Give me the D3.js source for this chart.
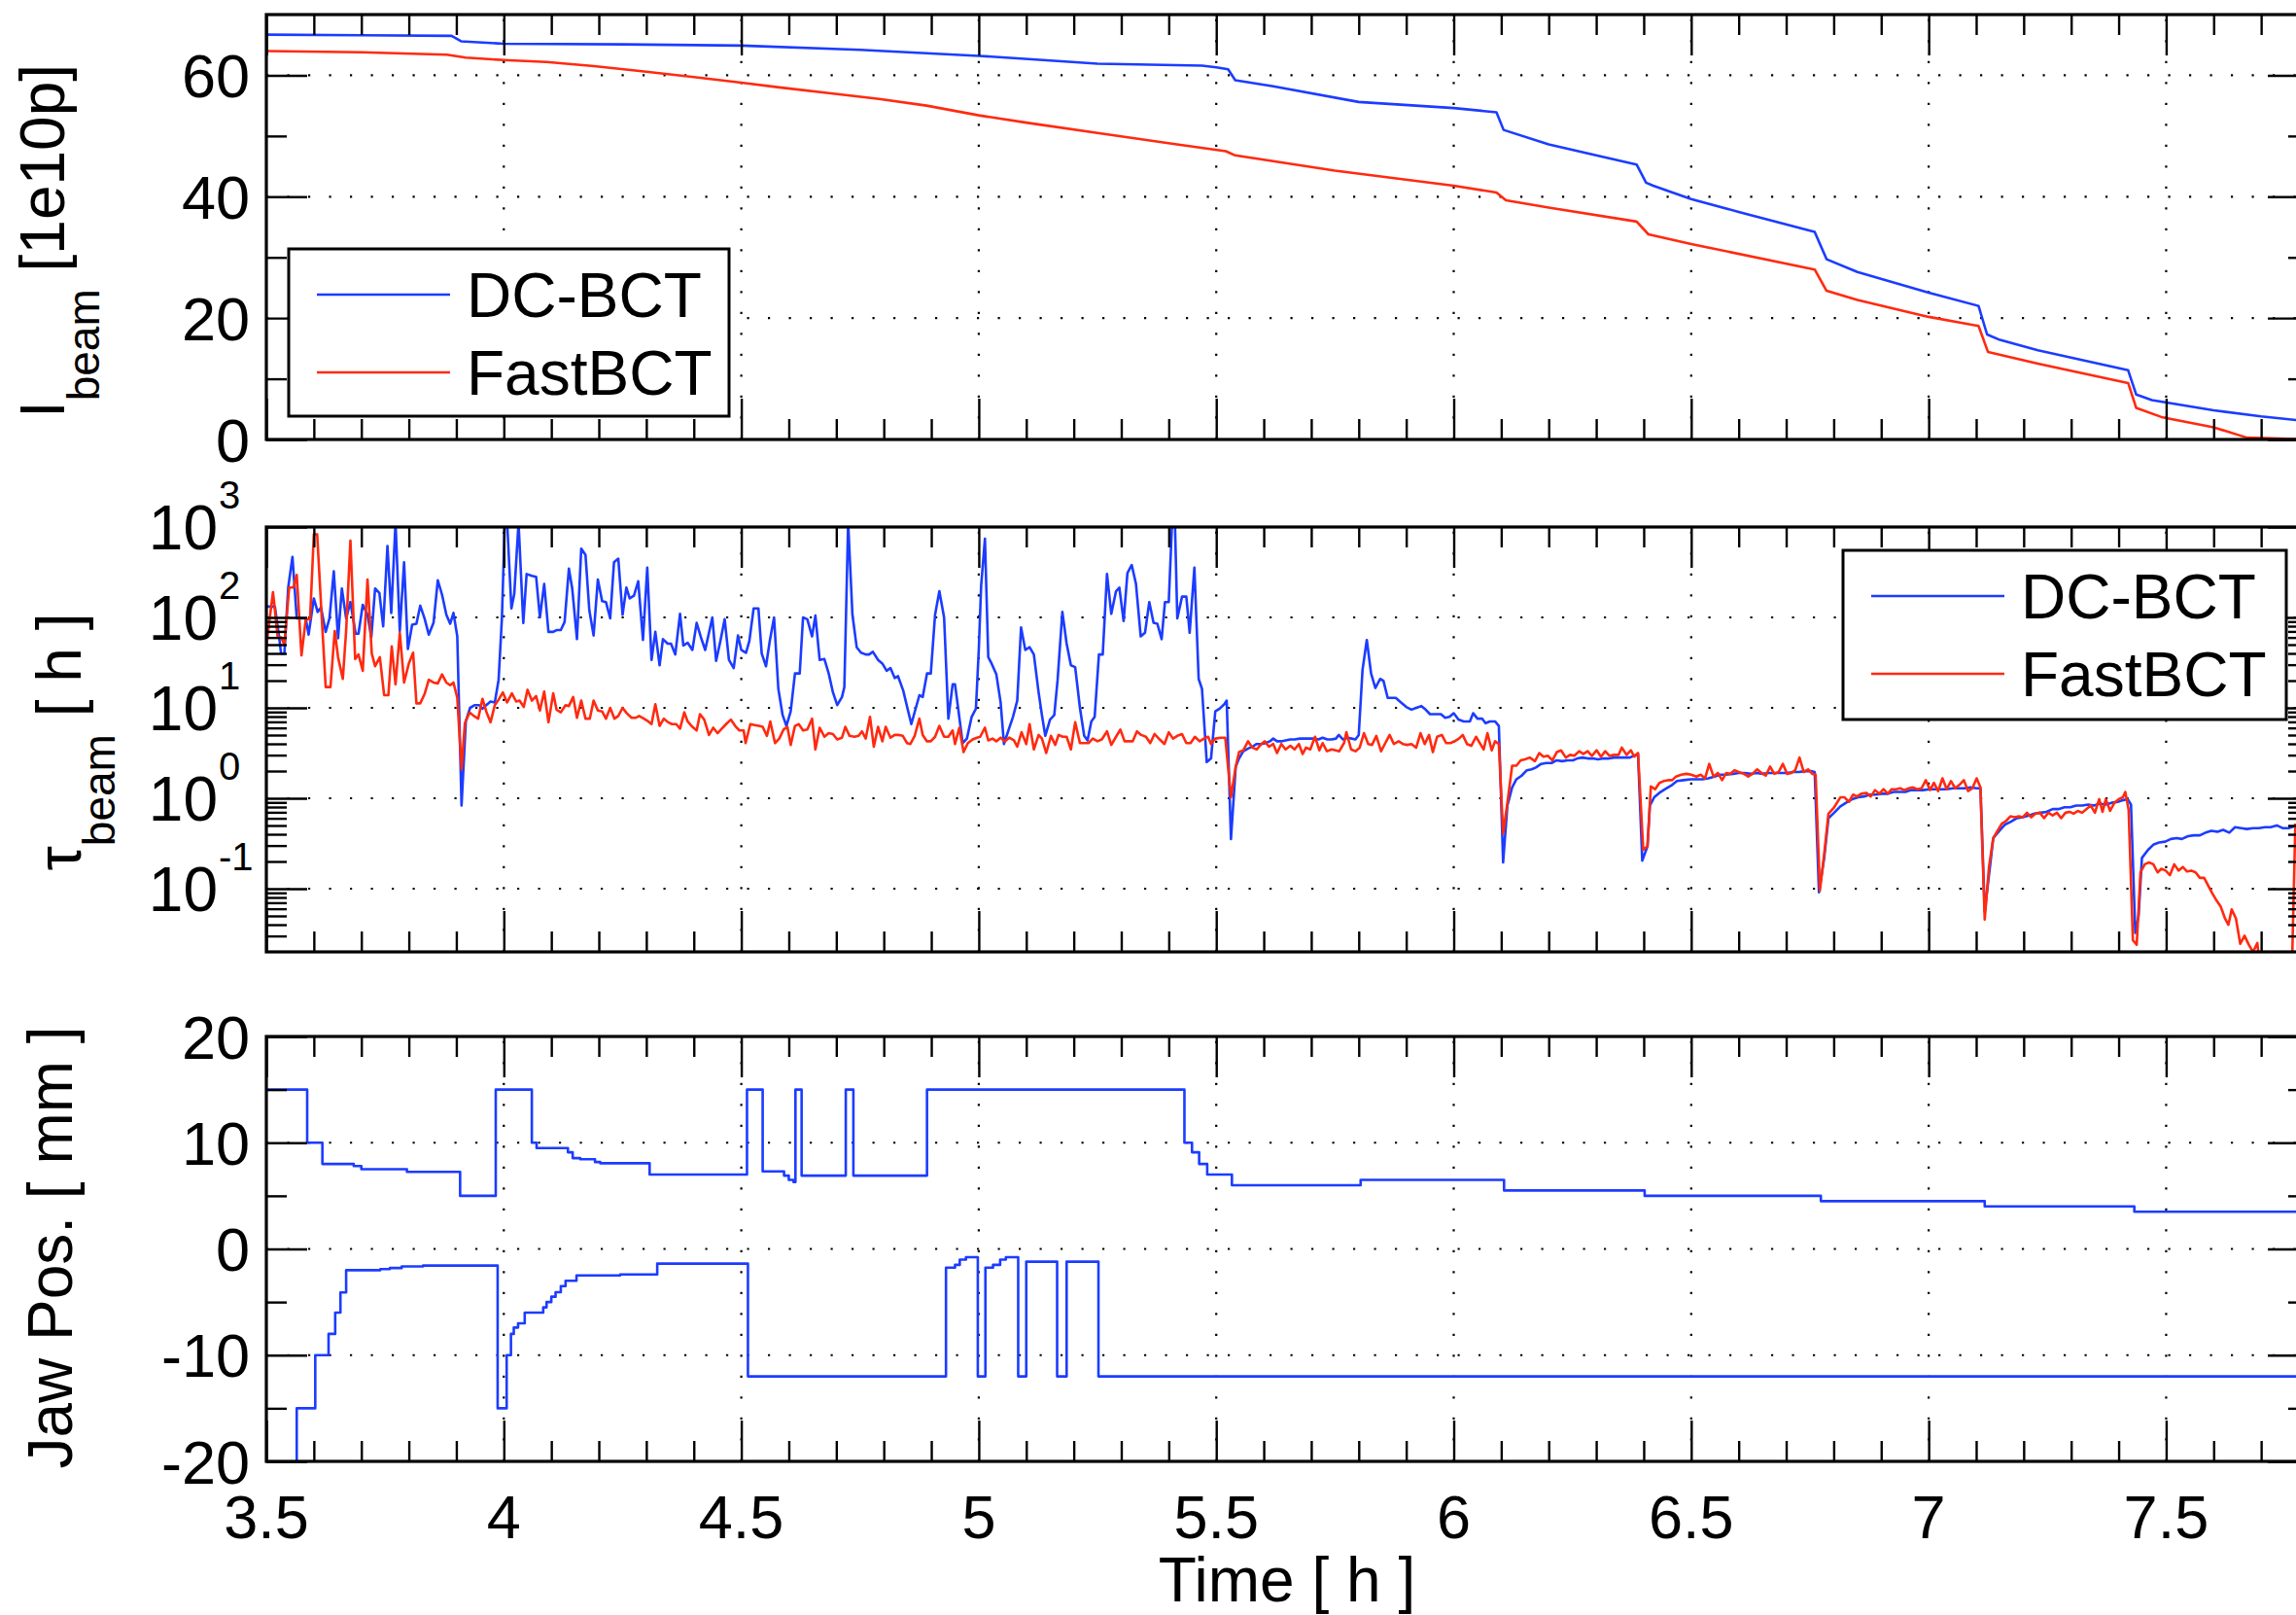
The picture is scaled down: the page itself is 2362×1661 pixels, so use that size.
<!DOCTYPE html>
<html><head><meta charset="utf-8">
<script src="https://cdn.jsdelivr.net/npm/d3@7"></script>
<style>
html,body{margin:0;padding:0;background:#fff;overflow:hidden}
svg{display:block}
text{font-family:"Liberation Sans",Arial,Helvetica,sans-serif;fill:#000}
</style></head><body>
<svg id="chart" width="2362" height="1661"></svg>
<script>
// ---------------- DATA ----------------
const seriesNames = ["DC-BCT", "FastBCT"];
const xTickValues = [3.5, 4, 4.5, 5, 5.5, 6, 6.5, 7, 7.5];
const xTickLabels = ["3.5", "4", "4.5", "5", "5.5", "6", "6.5", "7", "7.5"];
const iTickValues = [0, 20, 40, 60];
const iTickLabels = ["0", "20", "40", "60"];
const tauDecades = [-1, 0, 1, 2, 3];
const jawTickValues = [-20, -10, 0, 10, 20];
const jawTickLabels = ["-20", "-10", "0", "10", "20"];

// beam intensity [1e10 p] vs time [h]
const ibeamDC = [[3.5,66.7],[3.7,66.6],[3.89,66.5],[3.91,65.6],[4.0,65.2],[4.25,65.1],[4.5,64.9],[4.75,64.2],[5.0,63.2],[5.12,62.6],[5.25,61.9],[5.47,61.6],[5.5,61.3],[5.525,61.0],[5.54,59.2],[5.62,58.2],[5.8,55.6],[6.0,54.6],[6.09,53.9],[6.105,51.0],[6.2,48.6],[6.3,46.8],[6.385,45.3],[6.405,42.3],[6.42,41.8],[6.5,39.6],[6.6,37.5],[6.76,34.2],[6.785,29.7],[6.85,27.6],[7.0,24.2],[7.105,22.0],[7.123,17.3],[7.15,16.4],[7.23,14.7],[7.42,11.4],[7.437,7.4],[7.47,6.5],[7.6,4.8],[7.7,3.8],[7.8,3.0]];
const ibeamFast = [[3.5,64.0],[3.7,63.8],[3.88,63.4],[3.92,62.9],[4.0,62.5],[4.09,62.2],[4.19,61.5],[4.3,60.6],[4.4,59.7],[4.5,58.8],[4.58,58.0],[4.68,57.1],[4.79,56.1],[4.89,55.0],[5.0,53.4],[5.1,52.2],[5.25,50.5],[5.41,48.7],[5.52,47.5],[5.54,46.8],[5.75,44.3],[6.0,41.8],[6.09,40.7],[6.11,39.4],[6.2,38.2],[6.385,35.9],[6.41,33.8],[6.5,32.2],[6.76,28.0],[6.785,24.5],[6.85,23.0],[7.0,20.2],[7.105,18.7],[7.125,14.4],[7.23,12.5],[7.42,9.3],[7.437,5.2],[7.49,3.7],[7.6,2.0],[7.67,0.3],[7.8,0.0]];

// beam lifetime, stored as log10(tau / h) vs time [h]
const tauDcLog10 = [[3.499,2.12],[3.518,2.12],[3.527,1.78],[3.531,1.60],[3.538,1.60],[3.546,2.33],[3.555,2.67],[3.564,1.99],[3.583,1.99],[3.589,1.81],[3.600,2.21],[3.608,2.06],[3.615,2.11],[3.625,1.84],[3.633,1.99],[3.642,2.51],[3.651,1.77],[3.659,2.32],[3.668,1.99],[3.677,2.17],[3.688,1.82],[3.694,1.82],[3.703,2.14],[3.713,2.03],[3.721,1.78],[3.729,2.32],[3.738,2.27],[3.746,1.90],[3.755,2.79],[3.763,2.05],[3.772,3.05],[3.781,1.85],[3.790,2.61],[3.798,1.65],[3.807,1.92],[3.816,1.93],[3.824,2.13],[3.833,1.99],[3.842,1.81],[3.852,1.94],[3.861,2.41],[3.870,2.25],[3.879,2.03],[3.887,1.93],[3.894,2.05],[3.902,1.79],[3.911,-0.08],[3.920,0.85],[3.929,1.00],[3.939,1.03],[3.948,1.03],[3.955,0.99],[3.963,1.03],[3.972,1.07],[3.981,1.06],[3.989,1.31],[3.996,1.99],[4.002,3.05],[4.007,3.05],[4.016,2.10],[4.022,2.26],[4.031,3.05],[4.041,1.94],[4.048,2.48],[4.059,2.46],[4.068,2.45],[4.076,2.00],[4.085,2.37],[4.094,1.84],[4.104,1.84],[4.111,1.86],[4.120,1.86],[4.128,1.95],[4.137,2.54],[4.144,2.32],[4.154,1.76],[4.163,2.76],[4.172,2.69],[4.180,2.08],[4.189,1.80],[4.198,2.42],[4.207,2.18],[4.215,2.17],[4.224,1.99],[4.232,2.61],[4.241,2.65],[4.250,2.03],[4.258,2.33],[4.265,2.21],[4.274,2.24],[4.283,2.40],[4.293,1.75],[4.302,2.55],[4.311,1.53],[4.319,1.84],[4.328,1.47],[4.335,1.76],[4.345,1.71],[4.352,1.71],[4.361,1.59],[4.371,2.04],[4.378,1.69],[4.387,1.72],[4.397,1.64],[4.406,1.94],[4.415,1.78],[4.424,1.64],[4.439,2.00],[4.447,1.52],[4.456,1.74],[4.465,1.98],[4.474,1.53],[4.484,1.44],[4.493,1.80],[4.500,1.64],[4.510,1.61],[4.517,1.74],[4.526,2.10],[4.536,2.10],[4.543,1.60],[4.552,1.46],[4.560,1.74],[4.569,2.00],[4.578,1.21],[4.587,0.92],[4.595,0.80],[4.604,0.96],[4.613,1.38],[4.623,1.38],[4.630,2.00],[4.639,1.98],[4.649,1.79],[4.656,2.02],[4.665,1.53],[4.675,1.54],[4.684,1.38],[4.693,1.17],[4.702,1.03],[4.712,1.12],[4.717,1.23],[4.725,3.05],[4.734,2.03],[4.743,1.67],[4.752,1.61],[4.762,1.59],[4.769,1.59],[4.777,1.62],[4.788,1.53],[4.797,1.49],[4.806,1.41],[4.814,1.44],[4.823,1.33],[4.830,1.35],[4.841,1.19],[4.851,0.97],[4.858,0.82],[4.875,1.14],[4.882,1.12],[4.891,1.38],[4.899,1.38],[4.908,2.03],[4.917,2.29],[4.927,2.00],[4.936,0.88],[4.945,1.26],[4.950,1.26],[4.957,0.98],[4.966,0.61],[4.975,0.66],[4.985,0.90],[4.994,0.99],[5.000,1.64],[5.005,2.35],[5.013,2.87],[5.020,1.56],[5.027,1.49],[5.037,1.37],[5.046,1.06],[5.053,0.60],[5.063,0.76],[5.072,0.90],[5.081,1.08],[5.089,1.89],[5.098,1.64],[5.107,1.67],[5.116,1.59],[5.126,1.17],[5.133,0.92],[5.140,0.69],[5.150,0.87],[5.159,0.92],[5.166,1.31],[5.176,2.06],[5.185,1.71],[5.194,1.47],[5.203,1.45],[5.213,1.00],[5.222,0.69],[5.229,0.64],[5.237,0.85],[5.244,0.90],[5.253,1.59],[5.261,1.59],[5.270,2.48],[5.279,2.04],[5.289,2.29],[5.296,2.33],[5.305,1.96],[5.313,2.49],[5.322,2.58],[5.331,2.37],[5.341,1.79],[5.350,1.83],[5.359,2.17],[5.368,1.94],[5.376,1.93],[5.385,1.76],[5.392,2.17],[5.400,2.17],[5.407,3.05],[5.413,3.05],[5.418,1.99],[5.428,2.23],[5.437,2.23],[5.444,1.83],[5.454,2.55],[5.463,1.32],[5.470,1.21],[5.480,0.40],[5.489,0.44],[5.498,0.96],[5.507,0.99],[5.517,1.04],[5.522,1.08],[5.531,-0.45],[5.541,0.35],[5.548,0.44],[5.557,0.52],[5.567,0.55],[5.576,0.57],[5.585,0.60],[5.595,0.60],[5.604,0.61],[5.613,0.63],[5.620,0.66],[5.628,0.63],[5.637,0.63],[5.646,0.64],[5.656,0.65],[5.665,0.65],[5.676,0.66],[5.687,0.66],[5.696,0.66],[5.706,0.66],[5.715,0.65],[5.724,0.67],[5.734,0.65],[5.743,0.65],[5.752,0.66],[5.758,0.70],[5.767,0.65],[5.776,0.67],[5.785,0.66],[5.793,0.65],[5.800,0.70],[5.808,1.42],[5.817,1.75],[5.826,1.38],[5.835,1.22],[5.845,1.32],[5.852,1.30],[5.861,1.11],[5.878,1.11],[5.889,1.06],[5.900,1.01],[5.911,0.98],[5.921,1.00],[5.932,1.02],[5.939,0.99],[5.950,0.93],[5.961,0.93],[5.973,0.93],[5.982,0.89],[5.991,0.90],[6.000,0.94],[6.010,0.87],[6.021,0.85],[6.034,0.85],[6.041,0.94],[6.050,0.88],[6.060,0.88],[6.067,0.83],[6.076,0.85],[6.087,0.85],[6.095,0.80],[6.104,-0.71],[6.113,-0.08],[6.123,0.12],[6.132,0.21],[6.143,0.25],[6.154,0.31],[6.164,0.32],[6.173,0.34],[6.184,0.38],[6.195,0.39],[6.206,0.39],[6.217,0.42],[6.228,0.41],[6.240,0.42],[6.251,0.42],[6.260,0.44],[6.271,0.45],[6.282,0.44],[6.293,0.44],[6.304,0.43],[6.315,0.44],[6.327,0.44],[6.338,0.45],[6.349,0.45],[6.360,0.45],[6.371,0.45],[6.388,0.49],[6.397,-0.69],[6.408,-0.53],[6.413,-0.08],[6.422,0.01],[6.433,0.06],[6.445,0.10],[6.458,0.14],[6.470,0.19],[6.484,0.20],[6.499,0.21],[6.511,0.21],[6.524,0.21],[6.536,0.22],[6.549,0.24],[6.561,0.26],[6.573,0.26],[6.588,0.27],[6.600,0.28],[6.613,0.28],[6.625,0.27],[6.638,0.28],[6.650,0.27],[6.663,0.28],[6.677,0.28],[6.689,0.28],[6.702,0.28],[6.714,0.29],[6.727,0.29],[6.739,0.30],[6.752,0.30],[6.760,0.29],[6.769,-1.04],[6.780,-0.66],[6.789,-0.22],[6.801,-0.16],[6.814,-0.09],[6.826,-0.05],[6.839,-0.01],[6.851,0.01],[6.864,0.02],[6.876,0.04],[6.889,0.04],[6.901,0.05],[6.914,0.05],[6.926,0.07],[6.938,0.07],[6.951,0.07],[6.963,0.09],[6.976,0.09],[6.988,0.09],[7.001,0.10],[7.013,0.10],[7.026,0.10],[7.038,0.10],[7.051,0.11],[7.063,0.11],[7.076,0.11],[7.088,0.12],[7.101,0.11],[7.109,0.11],[7.118,-1.25],[7.129,-0.76],[7.136,-0.44],[7.149,-0.36],[7.161,-0.29],[7.173,-0.26],[7.186,-0.22],[7.198,-0.21],[7.211,-0.19],[7.223,-0.17],[7.236,-0.16],[7.248,-0.15],[7.261,-0.12],[7.273,-0.12],[7.286,-0.10],[7.298,-0.10],[7.311,-0.08],[7.323,-0.08],[7.336,-0.07],[7.348,-0.08],[7.360,-0.06],[7.373,-0.07],[7.385,-0.05],[7.398,-0.04],[7.410,-0.02],[7.419,-0.01],[7.426,-0.07],[7.435,-1.49],[7.442,-1.30],[7.449,-0.66],[7.462,-0.57],[7.474,-0.51],[7.485,-0.49],[7.498,-0.48],[7.510,-0.45],[7.522,-0.44],[7.533,-0.45],[7.546,-0.42],[7.558,-0.41],[7.571,-0.41],[7.583,-0.38],[7.595,-0.36],[7.608,-0.37],[7.620,-0.35],[7.633,-0.38],[7.645,-0.32],[7.658,-0.33],[7.670,-0.34],[7.683,-0.33],[7.695,-0.33],[7.708,-0.32],[7.720,-0.32],[7.733,-0.30],[7.745,-0.33],[7.758,-0.33],[7.774,-0.30],[7.800,-0.30]];
const tauFastLog10 = [[3.499,1.64],[3.505,1.90],[3.514,2.28],[3.524,1.78],[3.531,1.78],[3.538,1.70],[3.548,2.33],[3.557,2.33],[3.564,2.47],[3.574,1.58],[3.583,1.98],[3.592,1.98],[3.600,2.92],[3.607,2.92],[3.616,2.06],[3.625,1.23],[3.635,1.23],[3.644,1.85],[3.651,1.56],[3.661,1.32],[3.668,1.85],[3.677,2.85],[3.687,1.54],[3.694,1.59],[3.703,1.41],[3.713,2.42],[3.722,1.60],[3.729,1.46],[3.739,1.56],[3.748,1.14],[3.757,1.14],[3.764,1.68],[3.772,1.26],[3.781,1.83],[3.790,1.28],[3.800,1.49],[3.809,1.61],[3.816,1.05],[3.824,1.05],[3.833,1.15],[3.842,1.31],[3.852,1.28],[3.861,1.27],[3.870,1.37],[3.879,1.28],[3.887,1.25],[3.894,1.28],[3.902,1.11],[3.911,0.32],[3.918,0.83],[3.928,0.95],[3.937,0.91],[3.946,0.88],[3.955,1.10],[3.963,0.96],[3.972,0.84],[3.981,1.03],[3.989,1.09],[3.998,1.17],[4.007,1.06],[4.017,1.16],[4.026,1.07],[4.033,1.08],[4.042,1.01],[4.050,1.20],[4.059,1.08],[4.068,1.13],[4.076,0.97],[4.085,1.18],[4.094,0.84],[4.104,1.16],[4.111,0.98],[4.120,0.95],[4.130,1.03],[4.137,1.02],[4.146,1.12],[4.154,0.89],[4.163,1.08],[4.172,0.88],[4.181,0.88],[4.189,1.08],[4.198,0.97],[4.207,0.96],[4.215,0.88],[4.224,1.00],[4.233,0.88],[4.241,0.91],[4.250,1.00],[4.259,0.94],[4.269,0.89],[4.278,0.89],[4.285,0.91],[4.295,0.88],[4.304,0.85],[4.311,0.82],[4.319,1.04],[4.328,0.80],[4.337,0.88],[4.346,0.84],[4.354,0.82],[4.363,0.82],[4.371,0.77],[4.380,0.95],[4.387,0.85],[4.397,0.79],[4.406,0.75],[4.413,0.93],[4.422,0.87],[4.432,0.70],[4.441,0.78],[4.450,0.72],[4.459,0.77],[4.468,0.82],[4.478,0.87],[4.487,0.80],[4.496,0.75],[4.505,0.75],[4.509,0.61],[4.519,0.82],[4.528,0.81],[4.537,0.80],[4.545,0.79],[4.554,0.69],[4.561,0.85],[4.571,0.61],[4.580,0.66],[4.589,0.76],[4.597,0.79],[4.604,0.59],[4.613,0.80],[4.621,0.82],[4.630,0.75],[4.639,0.76],[4.649,0.88],[4.656,0.54],[4.665,0.78],[4.675,0.68],[4.684,0.72],[4.693,0.71],[4.702,0.65],[4.712,0.67],[4.719,0.79],[4.728,0.69],[4.738,0.68],[4.747,0.69],[4.754,0.74],[4.762,0.66],[4.771,0.90],[4.779,0.57],[4.788,0.79],[4.797,0.63],[4.804,0.79],[4.814,0.67],[4.823,0.70],[4.832,0.70],[4.840,0.69],[4.849,0.61],[4.856,0.60],[4.865,0.69],[4.875,0.88],[4.882,0.70],[4.891,0.63],[4.899,0.63],[4.908,0.68],[4.917,0.80],[4.927,0.68],[4.936,0.68],[4.945,0.75],[4.950,0.60],[4.959,0.78],[4.968,0.51],[4.977,0.61],[4.987,0.65],[4.996,0.67],[5.003,0.68],[5.013,0.78],[5.020,0.64],[5.029,0.66],[5.037,0.63],[5.046,0.67],[5.055,0.63],[5.064,0.67],[5.074,0.64],[5.081,0.57],[5.090,0.73],[5.100,0.60],[5.107,0.82],[5.116,0.54],[5.126,0.70],[5.133,0.66],[5.142,0.50],[5.152,0.69],[5.161,0.59],[5.168,0.70],[5.177,0.68],[5.185,0.68],[5.194,0.54],[5.203,0.84],[5.213,0.61],[5.222,0.61],[5.231,0.61],[5.240,0.66],[5.250,0.63],[5.259,0.65],[5.270,0.74],[5.279,0.59],[5.289,0.68],[5.298,0.76],[5.307,0.63],[5.317,0.63],[5.324,0.63],[5.333,0.74],[5.342,0.70],[5.352,0.68],[5.361,0.61],[5.370,0.71],[5.381,0.65],[5.391,0.60],[5.400,0.73],[5.409,0.66],[5.418,0.69],[5.428,0.71],[5.437,0.61],[5.446,0.61],[5.455,0.68],[5.465,0.63],[5.474,0.66],[5.483,0.68],[5.489,0.60],[5.498,0.66],[5.509,0.67],[5.519,0.67],[5.531,0.01],[5.541,0.35],[5.548,0.51],[5.557,0.53],[5.567,0.63],[5.576,0.56],[5.585,0.54],[5.595,0.60],[5.602,0.63],[5.611,0.57],[5.620,0.60],[5.628,0.50],[5.637,0.60],[5.646,0.54],[5.656,0.58],[5.665,0.54],[5.674,0.60],[5.682,0.49],[5.689,0.56],[5.698,0.54],[5.708,0.68],[5.717,0.53],[5.724,0.61],[5.733,0.52],[5.743,0.54],[5.752,0.53],[5.759,0.52],[5.769,0.61],[5.774,0.73],[5.784,0.54],[5.793,0.52],[5.802,0.56],[5.811,0.72],[5.820,0.60],[5.828,0.59],[5.837,0.69],[5.847,0.52],[5.856,0.61],[5.865,0.70],[5.874,0.60],[5.884,0.63],[5.893,0.60],[5.902,0.59],[5.911,0.60],[5.921,0.56],[5.930,0.72],[5.939,0.60],[5.948,0.70],[5.956,0.51],[5.965,0.68],[5.975,0.70],[5.984,0.61],[5.993,0.61],[6.002,0.63],[6.011,0.66],[6.019,0.70],[6.028,0.60],[6.037,0.58],[6.047,0.68],[6.056,0.60],[6.063,0.54],[6.071,0.72],[6.080,0.53],[6.087,0.63],[6.095,0.60],[6.104,-0.39],[6.113,-0.05],[6.123,0.36],[6.132,0.36],[6.141,0.42],[6.150,0.43],[6.160,0.45],[6.171,0.41],[6.180,0.50],[6.189,0.46],[6.198,0.47],[6.208,0.42],[6.217,0.51],[6.226,0.53],[6.236,0.45],[6.245,0.48],[6.254,0.47],[6.264,0.52],[6.273,0.49],[6.282,0.52],[6.291,0.47],[6.301,0.53],[6.310,0.46],[6.319,0.52],[6.328,0.47],[6.338,0.48],[6.347,0.48],[6.354,0.56],[6.364,0.48],[6.373,0.53],[6.380,0.46],[6.388,0.50],[6.399,-0.57],[6.408,-0.53],[6.415,0.13],[6.424,0.10],[6.433,0.17],[6.442,0.19],[6.451,0.20],[6.460,0.20],[6.468,0.24],[6.479,0.26],[6.490,0.27],[6.500,0.26],[6.511,0.24],[6.520,0.26],[6.529,0.22],[6.538,0.38],[6.547,0.24],[6.556,0.28],[6.565,0.20],[6.574,0.28],[6.582,0.27],[6.591,0.31],[6.600,0.29],[6.611,0.27],[6.620,0.24],[6.629,0.27],[6.639,0.32],[6.648,0.28],[6.657,0.25],[6.666,0.35],[6.675,0.27],[6.684,0.29],[6.693,0.38],[6.702,0.27],[6.711,0.28],[6.719,0.31],[6.728,0.45],[6.737,0.29],[6.746,0.32],[6.755,0.27],[6.762,0.26],[6.771,-1.02],[6.780,-0.62],[6.789,-0.17],[6.801,-0.10],[6.814,0.01],[6.823,0.01],[6.832,-0.04],[6.841,0.04],[6.849,0.02],[6.858,0.05],[6.869,0.06],[6.878,0.02],[6.887,0.09],[6.896,0.05],[6.905,0.10],[6.914,0.05],[6.922,0.10],[6.931,0.10],[6.940,0.11],[6.949,0.09],[6.958,0.11],[6.967,0.12],[6.976,0.10],[6.985,0.11],[6.994,0.20],[7.003,0.09],[7.011,0.17],[7.020,0.08],[7.029,0.22],[7.038,0.10],[7.047,0.19],[7.056,0.11],[7.065,0.15],[7.074,0.20],[7.083,0.08],[7.092,0.11],[7.101,0.22],[7.109,0.12],[7.118,-1.34],[7.127,-0.76],[7.136,-0.44],[7.145,-0.36],[7.154,-0.28],[7.163,-0.25],[7.172,-0.20],[7.181,-0.21],[7.190,-0.20],[7.198,-0.21],[7.207,-0.16],[7.216,-0.21],[7.225,-0.17],[7.234,-0.16],[7.243,-0.22],[7.252,-0.16],[7.261,-0.19],[7.270,-0.16],[7.279,-0.22],[7.288,-0.16],[7.297,-0.15],[7.305,-0.17],[7.314,-0.14],[7.323,-0.16],[7.332,-0.12],[7.341,-0.08],[7.350,-0.16],[7.359,-0.01],[7.366,-0.15],[7.373,-0.01],[7.382,-0.14],[7.391,-0.05],[7.400,-0.01],[7.409,0.01],[7.414,0.07],[7.421,-0.13],[7.430,-1.57],[7.438,-1.62],[7.446,-0.82],[7.455,-0.73],[7.464,-0.71],[7.473,-0.73],[7.482,-0.82],[7.490,-0.78],[7.499,-0.80],[7.508,-0.85],[7.517,-0.73],[7.526,-0.80],[7.535,-0.76],[7.544,-0.81],[7.553,-0.80],[7.562,-0.82],[7.571,-0.88],[7.580,-0.88],[7.588,-0.96],[7.597,-1.05],[7.606,-1.13],[7.615,-1.20],[7.624,-1.33],[7.631,-1.40],[7.638,-1.23],[7.647,-1.33],[7.656,-1.61],[7.665,-1.52],[7.674,-1.62],[7.683,-1.70],[7.692,-1.60],[7.697,-1.85],[7.765,-1.85],[7.772,-0.28]];

// collimator jaw positions [mm] (value holds until next change point)
const jawUpper = [[3.5,15],[3.586,10],[3.618,8.0],[3.684,7.8],[3.70,7.5],[3.796,7.25],[3.908,5.0],[3.983,15],[4.059,10],[4.069,9.5],[4.135,9.1],[4.145,8.55],[4.161,8.44],[4.192,8.18],[4.203,8.07],[4.307,7.0],[4.512,15],[4.545,7.3],[4.59,6.9],[4.60,6.5],[4.61,6.3],[4.614,15],[4.627,6.9],[4.72,15],[4.736,6.9],[4.891,15],[5.433,10],[5.449,9.1],[5.464,8.0],[5.481,7.0],[5.533,6.0],[5.804,6.5],[6.106,5.5],[6.402,5.0],[6.773,4.5],[7.118,4.0],[7.433,3.5],[7.8,3.5]];
const jawLower = [[3.5,-25],[3.564,-15],[3.603,-10],[3.631,-8.0],[3.645,-6.0],[3.656,-4.1],[3.668,-2.0],[3.74,-1.9],[3.76,-1.8],[3.785,-1.65],[3.83,-1.57],[3.987,-15],[4.006,-10],[4.015,-8.0],[4.021,-7.4],[4.03,-7.0],[4.044,-6.0],[4.083,-5.5],[4.09,-5.0],[4.10,-4.5],[4.109,-4.07],[4.12,-3.5],[4.13,-3.0],[4.153,-2.5],[4.245,-2.4],[4.323,-1.38],[4.514,-12],[4.931,-1.76],[4.95,-1.5],[4.96,-1.0],[4.973,-0.78],[4.998,-12],[5.014,-1.76],[5.03,-1.5],[5.045,-1.0],[5.057,-0.78],[5.083,-12],[5.10,-1.2],[5.165,-12],[5.185,-1.2],[5.252,-12],[7.8,-12]];

// ---------------- CHART ----------------
const BLUE = "#1c3cff", RED = "#ff2a10";
const FS = 63;
const svg = d3.select("#chart");
svg.append("rect").attr("width", 2362).attr("height", 1661).attr("fill", "#fff");

const X0 = 274, X1 = 2375;
const x = d3.scaleLinear().domain([3.5, 7.8]).range([X0, X1]);
const P = [{top: 15, bottom: 452}, {top: 542, bottom: 979}, {top: 1066, bottom: 1503}];
const yI = d3.scaleLinear().domain([0, 70]).range([P[0].bottom, P[0].top]);
const yT = d3.scaleLog().domain([0.02, 1000]).range([P[1].bottom, P[1].top]);
const yJ = d3.scaleLinear().domain([-20, 20]).range([P[2].bottom, P[2].top]);

const xMinor = d3.range(36, 78).map(v => v / 10).filter(v => Math.abs(v * 2 - Math.round(v * 2)) > 1e-6);
const tauMajor = tauDecades.map(d => Math.pow(10, d));
const tauMinor = [];
for (let d = -2; d <= 1; d++) for (let k = 2; k <= 9; k++) { const v = k * Math.pow(10, d); if (v > 0.02 && v < 100) tauMinor.push(v); }

const defs = svg.append("defs");
P.forEach((p, i) => {
  defs.append("clipPath").attr("id", "clip" + i).append("rect")
    .attr("x", X0).attr("y", p.top).attr("width", X1 - X0).attr("height", p.bottom - p.top);
});

function grid(g, p, y, yVals) {
  const gg = g.append("g").attr("stroke", "#000").attr("stroke-width", 2.2).attr("stroke-dasharray", "2.2 19.3");
  xTickValues.filter(v => v > 3.5).forEach(v => {
    gg.append("line").attr("x1", x(v)).attr("x2", x(v)).attr("y1", p.bottom).attr("y2", p.top);
  });
  yVals.forEach(v => {
    gg.append("line").attr("x1", X0).attr("x2", X1).attr("y1", y(v)).attr("y2", y(v));
  });
}

function ticks(g, p, y, yMajor, yMinor) {
  const tg = g.append("g");
  const add = (axis, tr) => {
    const a = tg.append("g").attr("transform", tr).call(axis);
    a.select(".domain").remove();
    a.selectAll("line").attr("stroke", "#000").attr("stroke-width", 2.4);
    a.selectAll("text").remove();
  };
  add(d3.axisBottom(x).tickValues(xTickValues).tickSize(-42).tickFormat(""), `translate(0,${p.bottom})`);
  add(d3.axisBottom(x).tickValues(xMinor).tickSize(-21).tickFormat(""), `translate(0,${p.bottom})`);
  add(d3.axisTop(x).tickValues(xTickValues).tickSize(-42).tickFormat(""), `translate(0,${p.top})`);
  add(d3.axisTop(x).tickValues(xMinor).tickSize(-21).tickFormat(""), `translate(0,${p.top})`);
  add(d3.axisLeft(y).tickValues(yMajor).tickSize(-42).tickFormat(""), `translate(${X0},0)`);
  add(d3.axisLeft(y).tickValues(yMinor).tickSize(-21).tickFormat(""), `translate(${X0},0)`);
  add(d3.axisRight(y).tickValues(yMajor).tickSize(-42).tickFormat(""), `translate(${X1},0)`);
  add(d3.axisRight(y).tickValues(yMinor).tickSize(-21).tickFormat(""), `translate(${X1},0)`);
}

function frame(g, p) {
  g.append("rect").attr("x", X0).attr("y", p.top).attr("width", X1 - X0).attr("height", p.bottom - p.top)
    .attr("fill", "none").attr("stroke", "#000").attr("stroke-width", 3.2);
}

function drawLine(g, i, data, line, color) {
  g.append("path").attr("clip-path", `url(#clip${i})`).datum(data).attr("d", line)
    .attr("fill", "none").attr("stroke", color).attr("stroke-width", 2.6).attr("stroke-linejoin", "round");
}

function legend(g, bx, by, bw, bh, rows) {
  const lg = g.append("g");
  lg.append("rect").attr("x", bx).attr("y", by).attr("width", bw).attr("height", bh)
    .attr("fill", "#fff").attr("stroke", "#000").attr("stroke-width", 3);
  rows.forEach((r, i) => {
    const base = by + 70 + i * 80;
    lg.append("line").attr("x1", bx + 29).attr("x2", bx + 166).attr("y1", base - 23).attr("y2", base - 23)
      .attr("stroke", r.color).attr("stroke-width", 2.6);
    lg.append("text").attr("x", bx + 183).attr("y", base).attr("font-size", 64).text(r.name);
  });
}

// ---------- Panel 1: I_beam ----------
const g1 = svg.append("g");
grid(g1, P[0], yI, [20, 40, 60]);
const lineI = d3.line().x(d => x(d[0])).y(d => yI(d[1]));
drawLine(g1, 0, ibeamDC, lineI, BLUE);
drawLine(g1, 0, ibeamFast, lineI, RED);
ticks(g1, P[0], yI, iTickValues, [10, 30, 50]);
frame(g1, P[0]);
g1.selectAll(".ylab").data(iTickValues).join("text")
  .attr("x", 257).attr("y", d => yI(d)).attr("dy", "0.36em").attr("text-anchor", "end")
  .attr("font-size", FS).text((d, i) => iTickLabels[i]);
legend(g1, 297, 256, 453, 172, [{name: seriesNames[0], color: BLUE}, {name: seriesNames[1], color: RED}]);
{
  const t = g1.append("text").attr("transform", "translate(66,248) rotate(-90)").attr("text-anchor", "middle").attr("font-size", 64);
  t.append("tspan").text("I");
  t.append("tspan").attr("font-size", 46).attr("dy", 36).text("beam");
  t.append("tspan").attr("dy", -36).text(" [1e10p]");
}

// ---------- Panel 2: tau_beam ----------
const g2 = svg.append("g");
grid(g2, P[1], yT, [0.1, 1, 10, 100]);
const lineT = d3.line().x(d => x(d[0])).y(d => yT(Math.pow(10, d[1])));
drawLine(g2, 1, tauDcLog10, lineT, BLUE);
drawLine(g2, 1, tauFastLog10, lineT, RED);
ticks(g2, P[1], yT, tauMajor, tauMinor);
frame(g2, P[1]);
tauDecades.forEach(d => {
  const yy = yT(Math.pow(10, d));
  g2.append("text").attr("x", 224).attr("y", yy + 23).attr("text-anchor", "end").attr("font-size", 64).text("10");
  g2.append("text").attr("x", 225).attr("y", yy - 19).attr("text-anchor", "start").attr("font-size", 40).text(String(d));
});
legend(g2, 1896, 566, 456, 174, [{name: seriesNames[0], color: BLUE}, {name: seriesNames[1], color: RED}]);
{
  const t = g2.append("text").attr("transform", "translate(83,763) rotate(-90)").attr("text-anchor", "middle").attr("font-size", 64);
  t.append("tspan").text("τ");
  t.append("tspan").attr("font-size", 46).attr("dy", 35).text("beam");
  t.append("tspan").attr("dy", -35).text(" [ h ]");
}

// ---------- Panel 3: jaw positions ----------
const g3 = svg.append("g");
grid(g3, P[2], yJ, [-10, 0, 10]);
const lineJ = d3.line().curve(d3.curveStepAfter).x(d => x(d[0])).y(d => yJ(d[1]));
drawLine(g3, 2, jawUpper, lineJ, BLUE);
drawLine(g3, 2, jawLower, lineJ, BLUE);
ticks(g3, P[2], yJ, jawTickValues, [-15, -5, 5, 15]);
frame(g3, P[2]);
g3.selectAll(".ylab").data(jawTickValues).join("text")
  .attr("x", 257).attr("y", d => yJ(d)).attr("dy", "0.36em").attr("text-anchor", "end")
  .attr("font-size", FS).text((d, i) => jawTickLabels[i]);
g3.selectAll(".xlab").data(xTickValues).join("text")
  .attr("x", d => x(d)).attr("y", 1582).attr("text-anchor", "middle")
  .attr("font-size", FS).text((d, i) => xTickLabels[i]);
g3.append("text").attr("transform", "translate(74,1283) rotate(-90)").attr("text-anchor", "middle")
  .attr("font-size", 64).text("Jaw Pos. [ mm ]");
g3.append("text").attr("x", 1324).attr("y", 1647).attr("text-anchor", "middle").attr("font-size", 64).text("Time [ h ]");
</script>
</body></html>
